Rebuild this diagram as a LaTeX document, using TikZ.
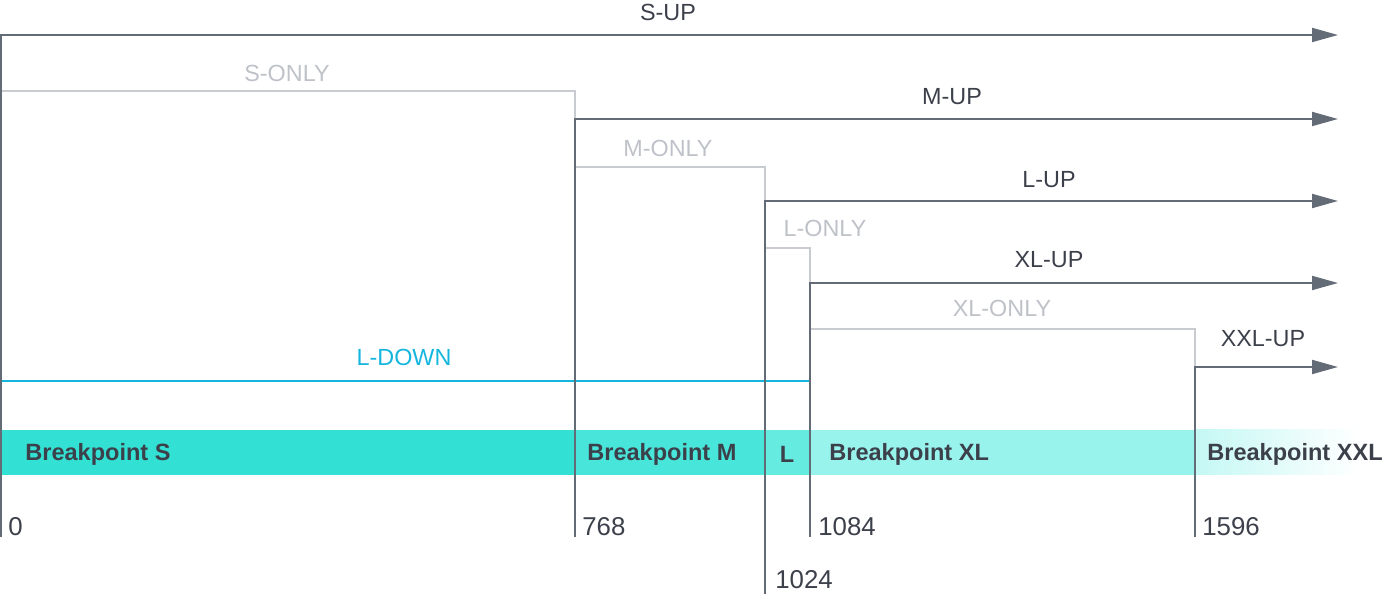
\documentclass[tikz,border=0pt]{standalone}
\usepackage{fontspec}
\setmainfont{Liberation Sans}
\usetikzlibrary{arrows.meta, positioning}

\definecolor{lineDark}{RGB}{99,107,119}
\definecolor{lineLight}{RGB}{200,203,208}
\definecolor{textLight}{RGB}{190,194,200}
\definecolor{downBlue}{RGB}{20,182,222}
\definecolor{textDark}{RGB}{60,64,74}
\definecolor{barS}{RGB}{51,225,212}
\definecolor{barM}{RGB}{72,230,218}
\definecolor{barL}{RGB}{102,235,224}
\definecolor{barXL}{RGB}{152,243,236}
\definecolor{barXXL}{RGB}{196,248,244}

\begin{document}
\begin{tikzpicture}[
    x=0.02cm, y=-0.02cm,
    up/.style={draw=lineDark, line width=1.1pt, -{Triangle[length=0.52cm, width=0.28cm]}},
    only/.style={draw=lineLight, line width=1.1pt},
    down/.style={draw=downBlue, line width=1.1pt},
    uplabel/.style={font=\fontsize{13.3}{15}\selectfont, text=textDark, inner sep=0pt},
    onlylabel/.style={uplabel, text=textLight},
    downlabel/.style={uplabel, text=downBlue},
    bp/.style={font=\bfseries\fontsize{13.4}{15}\selectfont, text=textDark, inner sep=0pt, anchor=west},
    px/.style={font=\fontsize{14.7}{16}\selectfont, text=textDark, inner sep=0pt, anchor=west}
]
\useasboundingbox (0,0) rectangle (1384,594);

% ==================== Breakpoint bar ====================
\fill[barS] (0,430) rectangle (575,475);
\fill[barM] (575,430) rectangle (765,475);
\fill[barL] (765,430) rectangle (810,475);
\fill[barXL] (810,430) rectangle (1195,475);
\shade[left color=barXXL, right color=white] (1195,430) rectangle (1360,475);

\node[bp] (bpS) at (25,454) {Breakpoint S};
\node[bp] (bpM) at (587,454) {Breakpoint M};
\node[bp, anchor=center] (bpL) at (787,454) {L};
\node[bp] (bpXL) at (829,454) {Breakpoint XL};
\node[bp] (bpXXL) at (1207,454) {Breakpoint XXL};

% ==================== Coordinates ====================
\coordinate (sBase) at (1,537);
\coordinate (mBase) at (575,537);
\coordinate (lBase) at (765,594);
\coordinate (xlBase) at (810,537);
\coordinate (xxlBase) at (1195,537);

\coordinate (sEnd) at (1338,35);
\coordinate (mEnd) at (1338,119);
\coordinate (lEnd) at (1338,201);
\coordinate (xlEnd) at (1338,283);
\coordinate (xxlEnd) at (1338,367);

\coordinate (mUp) at (575,119);
\coordinate (lUp) at (765,201);
\coordinate (xlUp) at (810,283);
\coordinate (xxlUp) at (1195,367);
\coordinate (xlDown) at (810,381);

\coordinate (sOnly) at (1,91);
\coordinate (mOnly) at (575,167);
\coordinate (lOnly) at (765,248);
\coordinate (xlOnly) at (810,329);
\coordinate (sDown) at (1,381);

% ==================== Ranges ====================
\draw[only] (sOnly) -| (mUp);
\draw[only] (mOnly) -| (lUp);
\draw[only] (lOnly) -| (xlUp);
\draw[only] (xlOnly) -| (xxlUp);
\draw[down] (sDown) -- (xlDown);

\draw[up] (sBase) |- (sEnd);
\draw[up] (mBase) |- (mEnd);
\draw[up] (lBase) |- (lEnd);
\draw[up] (xlBase) |- (xlEnd);
\draw[up] (xxlBase) |- (xxlEnd);

% ==================== Labels ====================
\node[uplabel] (labSUp) at (668,12) {S-UP};
\node[onlylabel] (labSOnly) at (287,73) {S-ONLY};
\node[uplabel] (labMUp) at (952,97) {M-UP};
\node[onlylabel] (labMOnly) at (668,148) {M-ONLY};
\node[uplabel] (labLUp) at (1049,180) {L-UP};
\node[onlylabel] (labLOnly) at (825,228) {L-ONLY};
\node[uplabel] (labXLUp) at (1049,260) {XL-UP};
\node[onlylabel] (labXLOnly) at (1002,308) {XL-ONLY};
\node[uplabel] (labXXLUp) at (1263,339) {XXL-UP};
\node[downlabel] (labLDown) at (404,357) {L-DOWN};

% ==================== Pixel values ====================
\node[px] (pxS) at (8,527) {0};
\node[px] (pxM) at (582,527) {768};
\node[px] (pxXL) at (818,527) {1084};
\node[px] (pxXXL) at (1202,527) {1596};
\node[px] (pxL) at (775,580) {1024};

\end{tikzpicture}
\end{document}
